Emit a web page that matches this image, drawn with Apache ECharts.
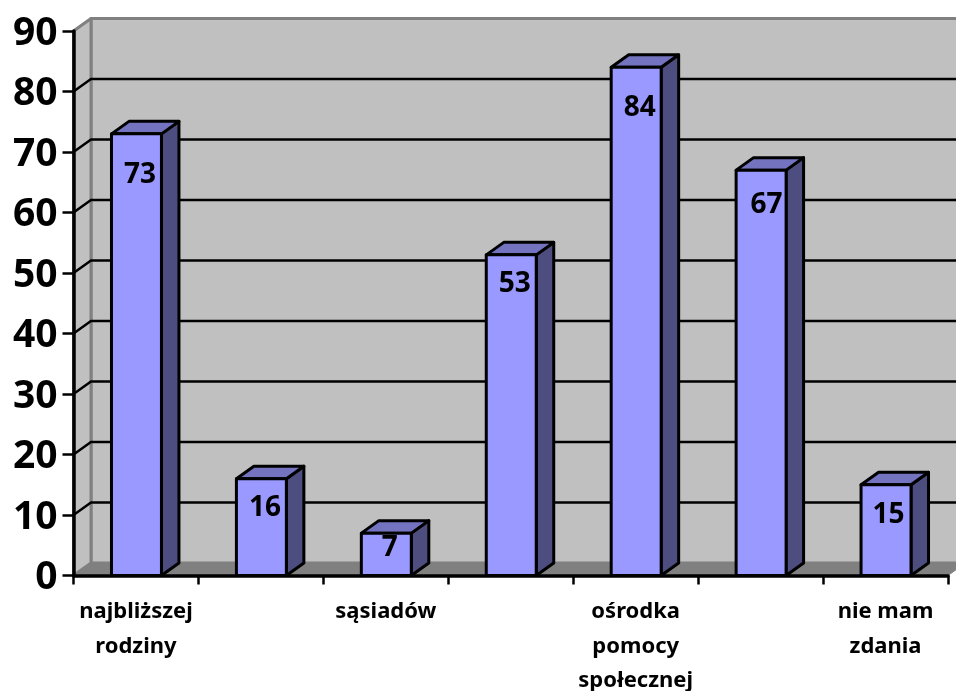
<!DOCTYPE html>
<html>
<head>
<meta charset="utf-8">
<style>
  html, body { margin: 0; padding: 0; background: #fff; }
  #chart { width: 956px; height: 691px; }
</style>
<script src="https://cdn.jsdelivr.net/npm/echarts@6/dist/echarts.min.js"></script>
</head>
<body>
<div id="chart"></div>
<script>
  // every second category label is missing in the picture
  const categories = ['najbliższej\nrodziny', '', 'sąsiadów', '', 'ośrodka\npomocy\nspołecznej', '', 'nie mam\nzdania']
  const values = [73, 16, 7, 53, 84, 67, 15]
  const yTicks = [10, 20, 30, 40, 50, 60, 70, 80]

  // label placement inside the bar front, the original has them uneven
  const labelDrop = [41, 29, 15, 29, 41, 35, 30]
  const labelShift = [4, 4, 4, 4, 4, 6, 3]

  const DX = 17.5 // 3d depth
  const DY = 12.5
  const FONT = '"Noto Sans", sans-serif'
  const LINE = { stroke: '#000', lineWidth: 3, lineJoin: 'round' }

  function poly(points, fill, style, z2) {
    return {
      type: 'polygon',
      z2: z2 || 0,
      shape: { points: points },
      style: Object.assign({ fill: fill }, style)
    }
  }

  function renderWalls(params) {
    const r = params.coordSys
    const l = r.x, t = r.y, b = r.y + r.height, e = r.x + r.width
    const edge = { stroke: '#808080', lineWidth: 3, lineJoin: 'round' }
    return {
      type: 'group',
      children: [
        poly([[l + DX, t - DY], [e + DX, t - DY], [e + DX, b - DY], [l + DX, b - DY]], '#C0C0C0', edge),
        poly([[l, t], [l + DX, t - DY], [l + DX, b - DY], [l, b]], '#C0C0C0', edge),
        poly([[l, b], [l + DX, b - DY], [e + DX, b - DY], [e, b]], '#808080', { stroke: '#808080', lineWidth: 1 })
      ]
    }
  }

  function renderGridLine(params, api) {
    const r = params.coordSys
    const y = api.coord([0, api.value(1)])[1]
    return {
      type: 'polyline',
      shape: { points: [[r.x, y], [r.x + DX, y - DY], [r.x + r.width + DX, y - DY]] },
      style: { stroke: '#000', lineWidth: 2.5, fill: null }
    }
  }

  function renderBar(params, api) {
    const i = api.value(0)
    const top = api.coord([i, api.value(1)])
    const base = api.coord([i, 0])
    const w = api.size([1, 0])[0] * 0.4
    const x0 = top[0] - w / 2 + 0.5
    const x1 = top[0] + w / 2 + 0.5
    const y0 = top[1]
    const y1 = base[1]
    return {
      type: 'group',
      children: [
        poly([[x1, y0], [x1 + DX, y0 - DY], [x1 + DX, y1 - DY], [x1, y1]], '#4D4D80', LINE),
        poly([[x0, y0], [x0 + DX, y0 - DY], [x1 + DX, y0 - DY], [x1, y0]], '#7373BF', LINE),
        poly([[x0, y0], [x1, y0], [x1, y1], [x0, y1]], '#9999FF', LINE),
        {
          type: 'text',
          z2: 5,
          style: {
            x: top[0] + labelShift[i],
            y: y0 + labelDrop[i],
            text: String(api.value(1)),
            fill: '#000',
            font: 'bold 28px ' + FONT,
            align: 'center',
            verticalAlign: 'middle'
          }
        }
      ]
    }
  }

  const chart = echarts.init(document.getElementById('chart'), null, { renderer: 'canvas' })
  chart.setOption({
    animation: false,
    backgroundColor: '#fff',
    grid: { left: 73.5, right: 8, top: 31, bottom: 115.5, containLabel: false, outerBoundsMode: 'none' },
    xAxis: {
      type: 'category',
      data: categories,
      z: 10,
      axisLine: { lineStyle: { color: '#000', width: 3.5 } },
      axisTick: { show: true, alignWithLabel: false, length: 9, lineStyle: { color: '#000', width: 2.5 } },
      axisLabel: {
        interval: 0,
        margin: 19,
        color: '#000',
        fontFamily: FONT,
        fontWeight: 'bold',
        fontSize: 22,
        lineHeight: 34.5
      },
      splitLine: { show: false }
    },
    yAxis: {
      type: 'value',
      min: 0,
      max: 90,
      interval: 10,
      z: 10,
      axisLine: { show: true, lineStyle: { color: '#000', width: 3.5 } },
      axisTick: { show: true, length: 11, lineStyle: { color: '#000', width: 2.5 } },
      axisLabel: {
        margin: 16,
        color: '#000',
        formatter: '{v|{value}}',
        rich: {
          v: {
            padding: [5, 0, 0, 0],
            color: '#000',
            fontFamily: FONT,
            fontWeight: 'bold',
            fontSize: 39
          }
        }
      },
      splitLine: { show: false }
    },
    series: [
      { type: 'custom', z: 1, clip: false, renderItem: renderWalls, data: [0], silent: true },
      {
        type: 'custom',
        z: 2,
        clip: false,
        renderItem: renderGridLine,
        encode: { x: 0, y: 1 },
        data: yTicks.map(function (v) { return [0, v] }),
        silent: true
      },
      {
        type: 'custom',
        z: 3,
        clip: false,
        renderItem: renderBar,
        encode: { x: 0, y: 1 },
        data: values.map(function (v, i) { return [i, v] })
      }
    ]
  })
</script>
</body>
</html>
